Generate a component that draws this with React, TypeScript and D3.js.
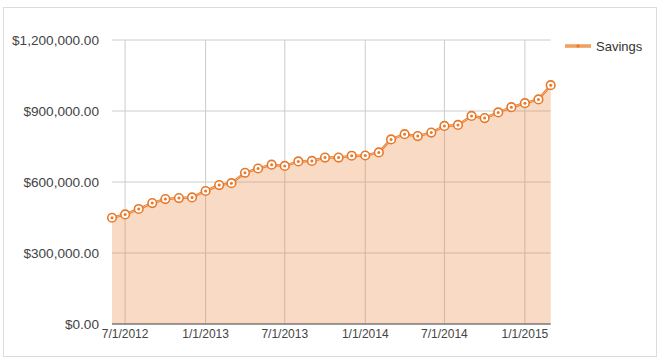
import { useEffect } from "react";
import * as d3 from "d3";

const months = [
  "2012-06-01", "2012-07-01", "2012-08-01", "2012-09-01", "2012-10-01", "2012-11-01",
  "2012-12-01", "2013-01-01", "2013-02-01", "2013-03-01", "2013-04-01", "2013-05-01",
  "2013-06-01", "2013-07-01", "2013-08-01", "2013-09-01", "2013-10-01", "2013-11-01",
  "2013-12-01", "2014-01-01", "2014-02-01", "2014-03-01", "2014-04-01", "2014-05-01",
  "2014-06-01", "2014-07-01", "2014-08-01", "2014-09-01", "2014-10-01", "2014-11-01",
  "2014-12-01", "2015-01-01", "2015-02-01", "2015-03-01",
];
const savings = [
  449000, 463000, 486000, 511000, 528000, 532000, 535000, 562000, 587000, 595000,
  639000, 657000, 673000, 668000, 687000, 689000, 703000, 703000, 711000, 712000,
  725000, 780000, 802000, 794000, 809000, 837000, 841000, 879000, 870000, 894000,
  916000, 933000, 949000, 1009000,
];
const xTicks = ["2012-07-01", "2013-01-01", "2013-07-01", "2014-01-01", "2014-07-01", "2015-01-01"];
const yTicks = [0, 300000, 600000, 900000, 1200000];
const seriesName = "Savings";

const W = 660;
const H = 363;
const plot = { left: 112, right: 550.7, top: 40, bottom: 324 };
const orange = "#e8792a";
const font = "Arial, 'Liberation Sans', sans-serif";

const App = () => {
  useEffect(() => {
    document.body.style.margin = "0";
  }, []);

  const parse = d3.utcParse("%Y-%m-%d");
  const dates = months.map((m) => parse(m)!);
  const x = d3.scaleUtc().domain([dates[0], dates[dates.length - 1]]).range([plot.left, plot.right]);
  const y = d3.scaleLinear().domain([0, 1200000]).range([plot.bottom, plot.top]);
  const pts = dates.map((d, i) => [x(d), y(savings[i])] as [number, number]);

  const line = d3.line<[number, number]>().x((p) => p[0]).y((p) => p[1]);
  const area = d3.area<[number, number]>().x((p) => p[0]).y0(plot.bottom).y1((p) => p[1]);
  const money = (v: number) => "$" + d3.format(",.2f")(v);
  const tickFmt = d3.utcFormat("%-m/%-d/%Y");

  return (
    <svg width={W} height={H} style={{ display: "block" }}>
      <rect x={3.5} y={7.5} width={653} height={349} fill="#fff" stroke="#dcdcdc" />
      {yTicks.map((t) => (
        <g key={t}>
          <line x1={plot.left} x2={plot.right} y1={y(t)} y2={y(t)} stroke="#cccccc" />
          <text x={99} y={y(t)} dy="0.35em" textAnchor="end" fontFamily={font} fontSize={13.6} fill="#444">
            {money(t)}
          </text>
        </g>
      ))}
      {xTicks.map((t) => {
        const xx = x(parse(t)!);
        return (
          <g key={t}>
            <line x1={xx} x2={xx} y1={plot.top} y2={plot.bottom} stroke="#cccccc" />
            <text x={xx} y={plot.bottom + 14} textAnchor="middle" fontFamily={font} fontSize={12} fill="#444">
              {tickFmt(parse(t)!)}
            </text>
          </g>
        );
      })}
      <path d={area(pts)!} fill={orange} fillOpacity={0.27} />
      <line x1={plot.left} x2={plot.right} y1={plot.bottom} y2={plot.bottom} stroke="#555" strokeWidth={1.2} />
      <path d={line(pts)!} fill="none" stroke={orange} strokeWidth={2.5} />
      <path d={line(pts)!} fill="none" stroke="#f6c9a2" strokeWidth={0.8} />
      {pts.map((p, i) => (
        <g key={i}>
          <circle cx={p[0]} cy={p[1]} r={4.3} fill="#fff" stroke={orange} strokeWidth={1.6} />
          <circle cx={p[0]} cy={p[1]} r={1.5} fill={orange} />
        </g>
      ))}
      <g transform="translate(565,46)">
        <line x1={0} x2={26} y1={0} y2={0} stroke="#f2b47e" strokeWidth={4} />
        <line x1={0} x2={26} y1={0} y2={0} stroke={orange} strokeWidth={1} strokeOpacity={0.6} />
        <circle cx={13} cy={0} r={1.6} fill={orange} />
        <text x={31} y={0} dy="0.35em" fontFamily={font} fontSize={13} fill="#333">
          {seriesName}
        </text>
      </g>
    </svg>
  );
};

export default App;
